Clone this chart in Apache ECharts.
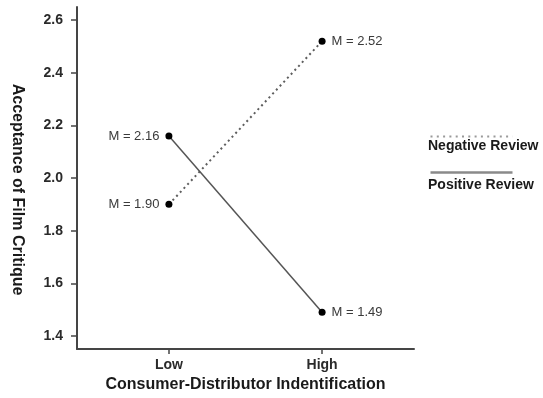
<!DOCTYPE html>
<html>
<head>
<meta charset="utf-8">
<script src="https://cdn.jsdelivr.net/npm/echarts@6/dist/echarts.min.js"></script>
<style>
  html, body { margin: 0; padding: 0; background: #fff; }
  #chart { width: 543px; height: 398px; }
</style>
</head>
<body>
<div id="chart"></div>
<script>
// Group labels on the x axis (positions 0 and 1)
const categories = ['Low', 'High'];
// Mean acceptance per identification level
const negativeReview = [1.90, 2.52];
const positiveReview = [2.16, 1.49];
const seriesNames = ['Negative Review', 'Positive Review'];
// Y axis tick values and their labels
const yTicks = [1.4, 1.6, 1.8, 2.0, 2.2, 2.4, 2.6];
const yTickLabels = ['1.4', '1.6', '1.8', '2.0', '2.2', '2.4', '2.6'];

const FONT = '"Liberation Sans", Arial, Helvetica, sans-serif';
const AXIS_COLOR = '#454545';

// Value labels sit to the left of Low points and to the right of High points
function toPoints(values) {
  return values.map((v, i) => ({
    value: [i, v],
    label: { position: i === 0 ? 'left' : 'right' }
  }));
}

const chart = echarts.init(document.getElementById('chart'), null, { renderer: 'canvas' });

const option = {
  backgroundColor: '#fff',
  animation: false,
  grid: { left: 77, top: 7, right: 129, bottom: 48 },
  xAxis: {
    type: 'value',
    min: -0.6,
    max: 1.6,
    name: 'Consumer-Distributor Indentification',
    nameLocation: 'middle',
    nameGap: 25,
    nameTextStyle: { fontFamily: FONT, fontWeight: 'bold', fontSize: 16, color: '#1a1a1a' },
    axisLine: { show: true, onZero: false, lineStyle: { color: AXIS_COLOR, width: 2 } },
    axisTick: { show: true, length: 5, customValues: [0, 1], lineStyle: { color: AXIS_COLOR, width: 1.5 } },
    axisLabel: {
      customValues: [0, 1],
      formatter: v => categories[Math.round(v)],
      fontFamily: FONT, fontWeight: 'bold', fontSize: 14, color: '#2a2a2a', margin: 9
    },
    splitLine: { show: false }
  },
  yAxis: {
    type: 'value',
    min: 1.35,
    max: 2.65,
    name: 'Acceptance of Film Critique',
    nameLocation: 'middle',
    nameRotate: -90,
    nameGap: 52,
    nameTextStyle: { fontFamily: FONT, fontWeight: 'bold', fontSize: 16, color: '#1a1a1a', padding: [0, 0, 0, 23] },
    axisLine: { show: true, onZero: false, lineStyle: { color: AXIS_COLOR, width: 2 } },
    axisTick: { show: true, length: 6, customValues: yTicks, lineStyle: { color: AXIS_COLOR, width: 1.5 } },
    axisLabel: {
      customValues: yTicks,
      formatter: v => yTickLabels[yTicks.findIndex(t => Math.abs(t - v) < 1e-6)],
      fontFamily: FONT, fontWeight: 'bold', fontSize: 14, color: '#2a2a2a', margin: 14
    },
    splitLine: { show: false }
  },
  series: [
    {
      name: seriesNames[0],
      type: 'line',
      data: toPoints(negativeReview),
      symbol: 'circle',
      symbolSize: 7,
      itemStyle: { color: '#000' },
      lineStyle: { color: '#5e5e5e', width: 2, type: [2, 3.4] },
      label: {
        show: true,
        distance: 6,
        formatter: p => 'M = ' + p.value[1].toFixed(2),
        fontFamily: FONT, fontSize: 13, color: '#3a3a3a'
      },
      z: 3
    },
    {
      name: seriesNames[1],
      type: 'line',
      data: toPoints(positiveReview),
      symbol: 'circle',
      symbolSize: 7,
      itemStyle: { color: '#000' },
      lineStyle: { color: '#555', width: 1.5 },
      label: {
        show: true,
        distance: 6,
        formatter: p => 'M = ' + p.value[1].toFixed(2),
        fontFamily: FONT, fontSize: 13, color: '#3a3a3a'
      },
      z: 3
    }
  ],
  // Key on the right: line sample above each series name
  graphic: [
    {
      type: 'line', left: 428, top: 134,
      shape: { x1: 0, y1: 0, x2: 82, y2: 0 },
      style: { stroke: '#999', lineWidth: 2, lineDash: [2, 4.3] }
    },
    {
      type: 'text', left: 428, top: 139,
      style: { text: seriesNames[0], font: 'bold 14px ' + FONT, fill: '#1a1a1a' }
    },
    {
      type: 'line', left: 428, top: 170,
      shape: { x1: 0, y1: 0, x2: 82, y2: 0 },
      style: { stroke: '#8a8a8a', lineWidth: 2.5 }
    },
    {
      type: 'text', left: 428, top: 178,
      style: { text: seriesNames[1], font: 'bold 14px ' + FONT, fill: '#1a1a1a' }
    }
  ]
};

chart.setOption(option);
</script>
</body>
</html>
